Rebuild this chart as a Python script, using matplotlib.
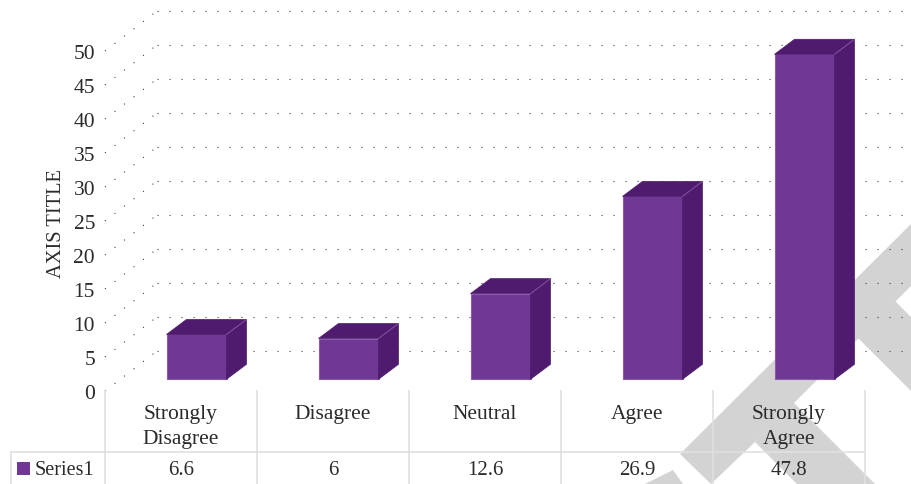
import matplotlib
matplotlib.use('Agg')
import matplotlib.pyplot as plt
from matplotlib.patches import Polygon

categories = ['Strongly\nDisagree', 'Disagree', 'Neutral', 'Agree', 'Strongly\nAgree']
values = [6.6, 6, 12.6, 26.9, 47.8]
table_labels = ['6.6', '6', '12.6', '26.9', '47.8']
y_ticks = list(range(0, 55, 5))
series_name = 'Series1'
axis_title = 'AXIS TITLE'

FRONT = '#703895'
DARK = '#4F1B6F'
EDGE = '#8A5BA8'
DOTS = '#404040'
GRID = '#e0e0e0'
TEXT = '#2b2b2b'
WATERMARK = '#d3d3d3'

W, H = 911, 485
COL = 152.0     # pixels per category
UNIT = 6.8      # pixels per value unit
X0 = 181.0      # pixel of first category centre
Y0 = 392.0      # pixel of value 0


def px(x):
    return (x - X0) / COL


def py(y):
    return (Y0 - y) / UNIT


plt.rcParams['font.family'] = ['Liberation Serif', 'DejaVu Serif']

fig = plt.figure(figsize=(W / 100, H / 100), dpi=100)
ax = fig.add_axes([0, 0, 1, 1])
ax.set_xlim(px(0), px(W))
ax.set_ylim(py(H), py(0))
ax.axis('off')

# watermark behind everything
for shape in [
    [(911, 225), (680, 455), (711, 485), (755, 443), (911, 287)],
    [(793, 403), (755, 443), (797, 485), (875, 485)],
    [(895, 302), (911, 318), (911, 392), (856, 337)],
    [(673, 471), (645, 485), (683, 485)],
]:
    ax.add_patch(Polygon([(px(a), py(b)) for a, b in shape], color=WATERMARK, lw=0, zorder=0))

# dotted walls, split so the horizontal part stays crisp
wall_dx = 52 / COL
wall_dy = 40 / UNIT
dotted = dict(color=DOTS, lw=0.8, ls=(0, (1, 9.8)), zorder=1)
for t in y_ticks:
    ax.plot([px(105), px(105) + wall_dx], [t, t + wall_dy], **dotted)
    ax.plot([px(105) + wall_dx, px(W)], [t + wall_dy, t + wall_dy], **dotted)
    ax.text(px(95), t - 2.5 / UNIT, str(t), ha='right', va='center', fontsize=15.5, color=TEXT)

ax.text(px(56), 24.7, axis_title, rotation=90, ha='center', va='center', fontsize=14.7, color=TEXT)

# 3d bars
bar_w = 60 / COL
bar_shift = 15.5 / COL
base = 11.7 / UNIT
dep_x = 20 / COL
dep_y = 15 / UNIT
for i, v in enumerate(values):
    left = i + bar_shift - bar_w / 2
    right = left + bar_w
    top = base + v
    ax.bar(left, v, width=bar_w, bottom=base, align='edge', color=FRONT, edgecolor=EDGE, lw=0.8, zorder=3)
    ax.add_patch(Polygon([(left, top), (left + dep_x, top + dep_y), (right + dep_x, top + dep_y), (right, top)],
                         facecolor=DARK, edgecolor=DARK, lw=0.5, zorder=3))
    ax.add_patch(Polygon([(right, base), (right + dep_x, base + dep_y), (right + dep_x, top + dep_y), (right, top)],
                         facecolor=DARK, edgecolor=DARK, lw=0.5, zorder=3))
    ax.plot([right, right + dep_x], [top, top + dep_y], color=EDGE, lw=0.6, zorder=3)

# data table
n = len(categories)
for i in range(n + 1):
    ax.plot([i - 0.5, i - 0.5], [py(392), py(H)], color=GRID, lw=1.2, zorder=2)
ax.plot([px(11), n - 0.5], [py(453), py(453)], color=GRID, lw=1.2, zorder=2)
ax.plot([px(11), px(11)], [py(453), py(H)], color=GRID, lw=1.2, zorder=2)

for i, (c, lab) in enumerate(zip(categories, table_labels)):
    ax.text(i, py(405), c, ha='center', va='top', fontsize=15.5, color=TEXT, linespacing=1.45, zorder=4)
    ax.text(i, py(471), lab, ha='center', va='center', fontsize=15, color=TEXT, zorder=4)

ax.bar(px(23.5), 13 / UNIT, width=13 / COL, bottom=py(476), color=FRONT, zorder=4)
ax.text(px(35), py(471), series_name, ha='left', va='center', fontsize=14.5, color=TEXT, zorder=4)

fig.savefig('out.png', dpi=100)
